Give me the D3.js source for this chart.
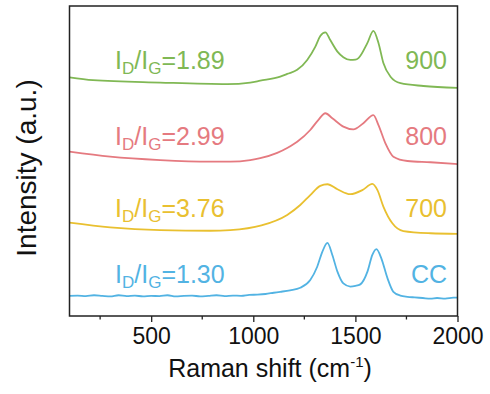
<!DOCTYPE html>
<html>
<head>
<meta charset="utf-8">
<script src="https://cdn.jsdelivr.net/npm/d3@7"></script>
<style>
  html, body { margin: 0; padding: 0; background: #fff; }
  svg { display: block; font-family: "Liberation Sans", Arial, sans-serif; }
</style>
</head>
<body>
<div id="chart"></div>
<script>
// Raman spectra, [shift (cm-1), intensity (a.u., offset)]
const s900 = [[100,77.0],[215,76.1],[544,75.3],[872,74.8],[985,75.3],[1034,75.9],[1132,77.2],[1166,78.1],[1215,79.4],[1264,82.6],[1304,86.9],[1328,90.3],[1353,91.5],[1377,89.0],[1412,85.3],[1441,83.5],[1475,82.6],[1500,82.7],[1515,83.2],[1559,88.1],[1588,92.0],[1613,88.1],[1637,81.6],[1672,77.2],[1721,75.1],[1833,74.2],[2000,73.6]];
const s800 = [[100,53.0],[299,51.4],[544,50.3],[789,49.8],[887,49.8],[985,50.3],[1034,50.9],[1117,52.6],[1166,54.2],[1215,56.2],[1279,60.0],[1318,63.2],[1353,65.4],[1387,63.8],[1441,61.1],[1490,60.2],[1539,62.2],[1588,64.8],[1613,61.6],[1647,55.7],[1686,51.4],[1755,50.0],[1868,49.6],[2000,49.0]];
const s700 = [[100,30.1],[299,28.6],[544,27.7],[789,27.5],[887,27.7],[1040,29.2],[1166,32.6],[1230,35.8],[1279,39.0],[1328,42.0],[1363,42.5],[1412,40.9],[1475,39.3],[1534,40.6],[1583,42.6],[1608,40.6],[1637,35.3],[1681,29.9],[1735,27.4],[1868,26.7],[2000,26.5]];
const sCC = [[100,6.5],[140,6.6],[180,6.4],[220,6.7],[260,6.5],[300,6.3],[340,6.7],[380,6.4],[420,6.6],[460,6.3],[500,6.5],[540,6.4],[580,6.7],[620,6.3],[660,6.5],[700,6.6],[740,6.3],[780,6.5],[820,6.7],[860,6.4],[900,6.6],[940,6.5],[980,6.8],[1020,6.9],[1060,7.1],[1100,7.5],[1132,7.8],[1180,8.3],[1230,9.1],[1279,11.6],[1313,15.9],[1338,20.7],[1363,23.6],[1387,19.7],[1412,14.3],[1441,10.5],[1475,9.5],[1500,9.7],[1524,10.2],[1559,14.3],[1583,19.7],[1603,21.6],[1627,18.6],[1657,12.2],[1686,7.8],[1720,6.6],[1755,6.2],[1790,6.0],[1830,5.8],[1868,5.6],[1900,5.8],[1940,5.6],[1980,5.9],[2000,5.9]];

const sampleNames = ["900", "800", "700", "CC"];
const ratios = ["1.89", "2.99", "3.76", "1.30"];
const colors = ["#80b854", "#e57a80", "#e9c030", "#52b3e3"];
const spectra = [s900, s800, s700, sCC];
// label baselines, in intensity units
const labelLevels = [79.7, 55.2, 32.0, 10.6];

const majorTicks = [500, 1000, 1500, 2000];
const minorTicks = [250, 750, 1250, 1750];

const width = 490, height = 394;
const margin = { left: 69.5, right: 32.5, top: 6, bottom: 78 };

const svg = d3.select("#chart").append("svg")
  .attr("width", width)
  .attr("height", height);

const x = d3.scaleLinear().domain([100, 2000]).range([margin.left, width - margin.right]);
const y = d3.scaleLinear().domain([0, 100]).range([height - margin.bottom, margin.top]);

const line = d3.line()
  .x(d => x(d[0]))
  .y(d => y(d[1]))
  .curve(d3.curveMonotoneX);

svg.append("g")
  .selectAll("path")
  .data(spectra)
  .enter().append("path")
  .attr("d", line)
  .attr("fill", "none")
  .attr("stroke", (d, i) => colors[i])
  .attr("stroke-width", 1.8)
  .attr("stroke-linejoin", "round");

// frame
svg.append("rect")
  .attr("x", x(100))
  .attr("y", y(100))
  .attr("width", x(2000) - x(100))
  .attr("height", y(0) - y(100))
  .attr("fill", "none")
  .attr("stroke", "#222")
  .attr("stroke-width", 1.5);

// bottom axis
const xAxis = svg.append("g")
  .attr("transform", `translate(0,${y(0)})`)
  .call(d3.axisBottom(x).tickValues(majorTicks).tickSize(6).tickPadding(5).tickFormat(d3.format("d")));
xAxis.select(".domain").remove();
xAxis.selectAll("line").attr("stroke", "#222").attr("stroke-width", 1.3);
xAxis.selectAll("text")
  .attr("fill", "#111")
  .style("font-size", "23px")
  .style("font-family", "'Liberation Sans', Arial, sans-serif")
  .attr("dy", "0.72em");

svg.append("g")
  .attr("transform", `translate(0,${y(0)})`)
  .selectAll("line")
  .data(minorTicks)
  .enter().append("line")
  .attr("x1", d => x(d)).attr("x2", d => x(d))
  .attr("y1", 0).attr("y2", 3.5)
  .attr("stroke", "#222")
  .attr("stroke-width", 1.3);

// axis titles
const xTitle = svg.append("text")
  .attr("x", 270)
  .attr("y", 377)
  .attr("text-anchor", "middle")
  .attr("fill", "#111")
  .style("font-size", "25px");
xTitle.append("tspan").text("Raman shift (cm");
xTitle.append("tspan").attr("dy", -10).style("font-size", "15px").text("-1");
xTitle.append("tspan").attr("dy", 10).text(")");

svg.append("text")
  .attr("transform", "translate(36,168) rotate(-90)")
  .attr("text-anchor", "middle")
  .attr("fill", "#111")
  .style("font-size", "28px")
  .text("Intensity (a.u.)");

// ID/IG labels and sample names
const labels = svg.append("g")
  .selectAll("g")
  .data(sampleNames)
  .enter().append("g");

labels.each(function (name, i) {
  const g = d3.select(this);
  const t = g.append("text")
    .attr("x", 115)
    .attr("y", y(labelLevels[i]))
    .attr("fill", colors[i])
    .style("font-size", "25px");
  t.append("tspan").text("I");
  t.append("tspan").attr("dy", 5).style("font-size", "17px").text("D");
  t.append("tspan").attr("dy", -5).text("/I");
  t.append("tspan").attr("dy", 5).style("font-size", "17px").text("G");
  t.append("tspan").attr("dy", -5).text("=" + ratios[i]);

  g.append("text")
    .attr("x", 447)
    .attr("y", y(labelLevels[i]))
    .attr("text-anchor", "end")
    .attr("fill", colors[i])
    .style("font-size", "25px")
    .text(name);
});
</script>
</body>
</html>
